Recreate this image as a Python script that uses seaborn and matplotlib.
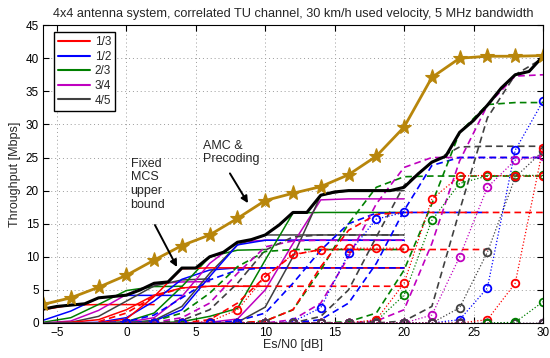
import numpy as np
import matplotlib
matplotlib.use("Agg")
import matplotlib.pyplot as plt
from matplotlib.lines import Line2D
import seaborn as sns

# Code rates and their colours
rates = ["1/3", "1/2", "2/3", "3/4", "4/5"]
rate_colors = ["#ff0000", "#0000ff", "#008000", "#bf00bf", "#404040"]

# Fixed MCS throughput [Mbps], 2 dB steps; one list per code rate (1/3 ... 4/5)
# single stream (solid), starting at -6 dB
one_stream_qpsk = [
    [2.0, 2.7, 2.78, 2.78, 2.78],
    [0.4, 1.8, 3.8, 4.17, 4.17, 4.17],
    [0.1, 0.8, 2.8, 4.9, 5.5, 5.55],
    [0.0, 0.3, 1.9, 4.3, 5.9, 6.2, 6.25],
    [0.0, 0.1, 1.0, 3.3, 5.6, 6.5, 6.67],
]
one_stream_16qam = [
    [0.0, 0.1, 0.5, 2.0, 4.2, 5.3, 5.55, 5.55, 5.55],
    [0.0, 0.0, 0.1, 0.8, 3.3, 6.6, 8.0, 8.33, 8.33, 8.33, 8.33, 8.33, 8.33, 8.33],
    [0.0, 0.0, 0.0, 0.2, 1.5, 5.5, 10.0, 11.0, 11.1],
    [0.0, 0.0, 0.0, 0.1, 0.8, 4.0, 9.0, 12.2, 12.5, 12.5, 12.5, 12.5, 12.5, 12.5],
    [0.0, 0.0, 0.0, 0.0, 0.4, 2.5, 7.5, 11.8, 13.3, 13.3, 13.3, 13.3, 13.3, 13.3],
]
one_stream_64qam = [
    [0.0, 0.0, 0.0, 0.6, 4.0, 8.2, 8.33, 8.33, 8.33, 8.33, 8.33, 8.33, 8.33, 8.33],
    [0.0, 0.0, 0.0, 0.0, 0.3, 2.0, 7.0, 11.8, 12.5, 12.5, 12.5, 12.5, 12.5, 12.5],
    [0.0, 0.0, 0.0, 0.0, 0.0, 0.2, 1.0, 2.2, 9.5, 16.6, 16.7, 16.7, 16.7, 16.7],
    [0.0, 0.0, 0.0, 0.0, 0.0, 0.0, 0.1, 0.6, 5.0, 12.0, 18.6, 18.75, 18.75, 18.75],
    [0.0, 0.0, 0.0, 0.0, 0.0, 0.0, 0.0, 0.1, 2.4, 10.0, 19.3, 20.0, 20.0, 20.0],
]

# two streams (dashed)
two_stream_qpsk_start = -2
two_stream_qpsk = [
    [0.2, 1.5, 4.0, 5.3, 5.55, 5.55, 5.55, 5.55, 5.55, 5.55, 5.55, 5.55],
    [0.0, 0.2, 1.2, 3.8, 6.5, 8.0, 8.33, 8.33, 8.33, 8.33, 8.33, 8.33],
    [0.0, 0.0, 0.3, 1.5, 4.5, 8.5, 10.8, 11.1, 11.1, 11.1, 11.1, 11.1],
    [0.0, 0.0, 0.1, 0.8, 3.0, 7.5, 11.5, 12.4, 12.5, 12.5, 12.5, 12.5],
    [0.0, 0.0, 0.0, 0.4, 2.0, 6.0, 11.0, 13.0, 13.3, 13.3, 13.3, 13.3],
]
two_stream_16qam_start = 4
two_stream_16qam = [
    [0.0, 0.5, 3.0, 7.0, 10.3, 11.1, 11.1, 11.1, 11.1, 11.1, 11.1, 11.1],
    [0.0, 0.0, 0.3, 1.5, 6.0, 11.0, 15.0, 16.6, 16.7, 16.7, 16.7, 16.7],
    [0.0, 0.0, 0.0, 0.3, 2.0, 8.0, 15.0, 20.5, 22.1, 22.2, 22.2, 22.2, 22.2, 22.2],
    [0.0, 0.0, 0.0, 0.0, 0.5, 3.0, 10.0, 18.0, 23.5, 25.0, 25.0, 25.0, 25.0, 25.0],
    [0.0, 0.0, 0.0, 0.0, 0.0, 1.0, 5.0, 13.0, 20.8, 24.3, 26.6, 26.7, 26.7, 26.7],
]
two_stream_64qam_start = 8
two_stream_64qam = [
    [0.0, 0.3, 2.0, 8.5, 14.0, 16.4, 16.7, 16.7, 16.7, 16.7, 16.7, 16.7],
    [0.0, 0.0, 0.0, 0.5, 3.0, 9.0, 17.0, 23.8, 25.0, 25.0, 25.0, 25.0],
    [0.0, 0.0, 0.0, 0.0, 0.2, 1.5, 8.0, 18.0, 28.8, 33.0, 33.3, 33.3],
    [0.0, 0.0, 0.0, 0.0, 0.0, 0.3, 2.0, 12.0, 24.5, 32.9, 37.3, 37.5],
    [0.0, 0.0, 0.0, 0.0, 0.0, 0.0, 0.3, 2.5, 17.0, 31.0, 37.5, 40.0],
]

# four streams (dotted with circles), with their first SNR point
four_stream_qpsk_start = [0, 0, 0, 0, 0]
four_stream_qpsk = [
    [0.0, 0.0, 0.0, 0.2, 2.0, 7.0, 10.4, 11.0, 11.3, 11.3, 11.3],
    [0.0, 0.0, 0.0, 0.0, 0.0, 0.0, 0.2, 2.3, 10.5, 15.7, 16.7],
    [0.0, 0.0, 0.0, 0.0, 0.0, 0.0, 0.0, 0.0, 0.0, 0.3, 4.2, 15.5, 21.1, 22.2, 22.3, 22.3],
    [0.0, 0.0, 0.0, 0.0, 0.0, 0.0, 0.0, 0.0, 0.0, 0.0, 0.0, 1.2, 10.0, 20.5, 24.6, 25.2],
    [0.0, 0.0, 0.0, 0.0, 0.0, 0.0, 0.0, 0.0, 0.0, 0.0, 0.0, 0.0, 2.3, 10.7, 22.0, 26.0],
]
four_stream_16qam_start = [0, 0, 26, 0, 0]
four_stream_16qam = [
    [0.0, 0.0, 0.0, 0.0, 0.0, 0.0, 0.0, 0.0, 0.0, 0.5, 6.0, 18.7, 22.2, 22.3, 22.2, 22.2],
    [0.0, 0.0, 0.0, 0.0, 0.0, 0.0, 0.0, 0.0, 0.0, 0.0, 0.0, 0.0, 0.5, 5.3, 26.1, 33.5],
    [0.0, 0.1, 3.2],
    [0.0, 0.0, 0.0, 0.0, 0.0, 0.0, 0.0, 0.0, 0.0, 0.0, 0.0, 0.0, 0.0, 0.0, 0.0, 0.0],
    [0.0, 0.0, 0.0, 0.0, 0.0, 0.0, 0.0, 0.0, 0.0, 0.0, 0.0, 0.0, 0.0, 0.0, 0.0, 0.0],
]
four_stream_64qam_start = [0, 0, 0, 0, 0]
four_stream_64qam = [
    [0.0, 0.0, 0.0, 0.0, 0.0, 0.0, 0.0, 0.0, 0.0, 0.0, 0.0, 0.0, 0.0, 0.5, 6.0, 26.4],
    [0.0, 0.0, 0.0, 0.0, 0.0],
    [0.0, 0.0, 0.0, 0.0, 0.0, 0.0, 0.0, 0.0, 0.0, 0.0, 0.0, 0.0, 0.0, 0.0, 0.0, 0.0],
    [0.0, 0.0, 0.0, 0.0, 0.0, 0.0, 0.0, 0.0, 0.0, 0.0, 0.0, 0.0, 0.0, 0.0, 0.0, 0.0],
    [0.0, 0.0, 0.0, 0.0, 0.0, 0.0, 0.0, 0.0, 0.0, 0.0, 0.0, 0.0, 0.0, 0.0, 0.0, 0.0],
]

# Upper bound over all fixed MCS, 1 dB steps from -6 dB
bound_snr = list(range(-6, 31))
bound_tp = [2.1, 2.5, 2.7, 2.9, 3.8, 4.0, 4.2, 5.0, 6.0, 6.2, 8.3, 8.3, 10.0, 10.7,
            12.2, 12.6, 13.3, 14.8, 16.7, 16.7, 19.3, 19.8, 20.0, 20.0, 20.0, 20.0,
            20.5, 22.5, 24.3, 25.2, 28.8, 30.6, 32.9, 35.5, 37.5, 38.0, 40.3]

# Adaptive modulation and coding with precoding, 2 dB steps from -6 dB
amc_snr = list(range(-6, 31, 2))
amc_tp = [2.8, 3.8, 5.4, 7.2, 9.5, 11.7, 13.3, 15.8, 18.5, 19.6, 20.6, 22.4,
          25.2, 29.6, 37.1, 40.0, 40.3, 40.3, 40.4]

sns.set_style("ticks")
plt.rcParams["font.family"] = ["Liberation Sans", "DejaVu Sans"]

fig = plt.figure(figsize=(5.5, 3.58), dpi=100)
ax = fig.add_axes([0.0782, 0.0978, 0.909, 0.832])

solid = dict(linestyle="-", linewidth=1.1)
dashed = dict(linestyle=(0, (4, 2.5)), linewidth=1.2)
dotted = dict(linestyle=(0, (1, 1.6)), linewidth=0.9, marker="o", markersize=5.5,
              markerfacecolor="none", markeredgewidth=1.3)


def draw_curve(x0, ys, idx, style):
    xs = x0 + 2 * np.arange(len(ys))
    kw = dict(style)
    if "marker" in kw:
        kw["markeredgecolor"] = rate_colors[idx]
    sns.lineplot(x=xs, y=ys, ax=ax, color=rate_colors[idx], estimator=None,
                 sort=False, legend=False, **kw)


for group in (one_stream_qpsk, one_stream_16qam, one_stream_64qam):
    for i, ys in enumerate(group):
        draw_curve(-6, ys, i, solid)

for start, group in ((two_stream_qpsk_start, two_stream_qpsk),
                     (two_stream_16qam_start, two_stream_16qam),
                     (two_stream_64qam_start, two_stream_64qam)):
    for i, ys in enumerate(group):
        draw_curve(start, ys, i, dashed)

# four-stream curves; the all-zero ones last so their circles sit on top
four_order = [
    (four_stream_qpsk_start, four_stream_qpsk, [0, 1, 2, 3, 4]),
    (four_stream_16qam_start, four_stream_16qam, [0, 1]),
    (four_stream_64qam_start, four_stream_64qam, [0, 2]),
    (four_stream_16qam_start, four_stream_16qam, [3, 4]),
    (four_stream_64qam_start, four_stream_64qam, [3, 4]),
    (four_stream_16qam_start, four_stream_16qam, [2]),
    (four_stream_64qam_start, four_stream_64qam, [1]),
]
for starts, group, idxs in four_order:
    for i in idxs:
        draw_curve(starts[i], group[i], i, dotted)

sns.lineplot(x=bound_snr, y=bound_tp, ax=ax, color="black", linewidth=2.2,
             estimator=None, sort=False, legend=False)
sns.lineplot(x=amc_snr, y=amc_tp, ax=ax, color="#b8860b", linewidth=2.0,
             marker="*", markersize=11, markeredgecolor="#b8860b",
             markerfacecolor="#b8860b", markeredgewidth=0.8,
             estimator=None, sort=False, legend=False)

ax.set_xlim(-6, 30)
ax.set_ylim(0, 45)
ax.set_xticks(range(-5, 31, 5))
ax.set_yticks(range(0, 46, 5))
ax.grid(True, linestyle=(0, (1, 3)), color="#9a9a9a", linewidth=0.7)
ax.tick_params(direction="in", top=True, right=True, length=4, width=0.8,
               labelsize=8.5, pad=3, colors="black")
for s in ax.spines.values():
    s.set_visible(True)
    s.set_color("black")
    s.set_linewidth(0.8)

ax.set_xlabel("Es/N0 [dB]", fontsize=9, labelpad=0)
ax.set_ylabel("Throughput [Mbps]", fontsize=9, labelpad=3)
ax.set_title("4x4 antenna system, correlated TU channel, 30 km/h used velocity, "
             "5 MHz bandwidth", fontsize=9.2, pad=6)

# Annotations
ax.text(0.3, 25.0, "Fixed\nMCS\nupper\nbound", fontsize=9, ha="left", va="top",
        linespacing=1.2)
ax.annotate("", xy=(3.65, 8.45), xytext=(2.06, 14.8),
            arrowprops=dict(arrowstyle="-|>", color="black", lw=1.4,
                            mutation_scale=10, shrinkA=0, shrinkB=0))
ax.text(5.5, 27.7, "AMC &\nPrecoding", fontsize=9, ha="left", va="top",
        linespacing=1.2)
ax.annotate("", xy=(8.76, 18.1), xytext=(7.46, 22.6),
            arrowprops=dict(arrowstyle="-|>", color="black", lw=1.4,
                            mutation_scale=10, shrinkA=0, shrinkB=0))

handles = [Line2D([0], [0], color=c, lw=1.5) for c in rate_colors]
leg = ax.legend(handles, rates, loc="upper left", bbox_to_anchor=(0.022, 0.977),
                borderaxespad=0, fontsize=8.5, frameon=True, fancybox=False,
                handlelength=2.7, handletextpad=0.4, labelspacing=0.22,
                borderpad=0.35)
leg.get_frame().set_edgecolor("black")
leg.get_frame().set_linewidth(1.0)
leg.get_frame().set_facecolor("white")
leg.get_frame().set_alpha(1.0)

fig.savefig("out.png", dpi=100)
